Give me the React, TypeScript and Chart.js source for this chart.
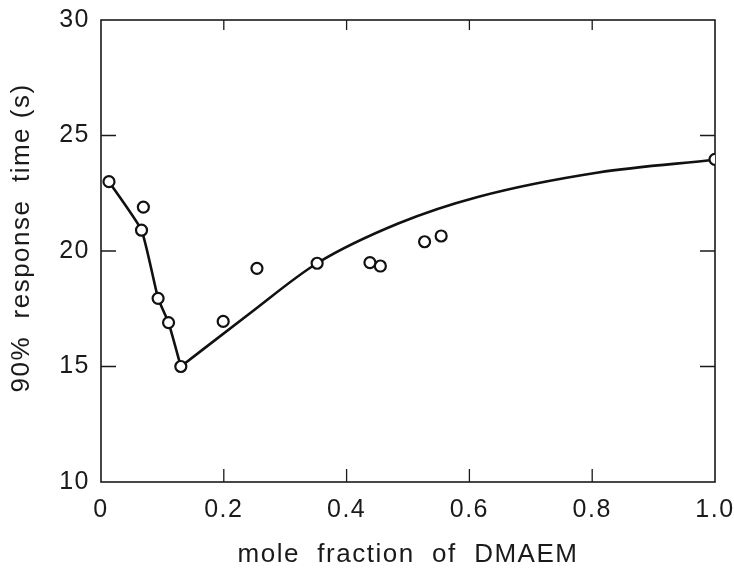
import React, { useEffect, useRef } from "react";
import { Chart, registerables } from "chart.js";

Chart.register(...registerables);

// Measured points: mole fraction of DMAEM vs 90% response time (s)
const moleFraction = [0.013, 0.069, 0.066, 0.093, 0.11, 0.13, 0.199, 0.254, 0.352, 0.438, 0.455, 0.527, 0.554, 1.0];
const responseTime = [23.0, 21.9, 20.9, 17.95, 16.9, 15.0, 16.95, 19.25, 19.47, 19.5, 19.35, 20.4, 20.65, 23.97];

// Hand-drawn trend line, left branch
const leftCurveX = [0.013, 0.066, 0.093, 0.11, 0.13];
const leftCurveY = [23.0, 20.9, 17.95, 16.9, 15.0];

// Hand-drawn trend line, right branch
const rightCurveX = [0.13, 0.24, 0.352, 0.485, 0.615, 0.81, 1.0];
const rightCurveY = [15.0, 17.25, 19.47, 21.2, 22.35, 23.4, 23.95];

const xTickLabels = ["0", "0.2", "0.4", "0.6", "0.8", "1.0"];
const yTickLabels = ["10", "15", "20", "25", "30"];

const toXY = (xs: number[], ys: number[]) => xs.map((x, i) => ({ x, y: ys[i] }));

const frameAndTicks = {
  id: "frameAndTicks",
  beforeDraw(chart: any) {
    (chart.ctx as any).letterSpacing = "1.5px";
  },
  beforeDatasetsDraw(chart: any) {
    const { ctx, chartArea } = chart;
    const { left, right, top, bottom } = chartArea;
    const xs = chart.scales.x;
    const ys = chart.scales.y;
    ctx.save();
    ctx.strokeStyle = "#1a1a1a";
    ctx.lineWidth = 1.6;
    ctx.strokeRect(left, top, right - left, bottom - top);
    ctx.lineWidth = 1.3;
    ctx.beginPath();
    xs.ticks.forEach((t: any) => {
      const px = xs.getPixelForValue(t.value);
      if (px <= left + 1 || px >= right - 1) return;
      ctx.moveTo(px, bottom);
      ctx.lineTo(px, bottom - 13);
      ctx.moveTo(px, top);
      ctx.lineTo(px, top + 10);
    });
    ys.ticks.forEach((t: any) => {
      const py = ys.getPixelForValue(t.value);
      if (py <= top + 1 || py >= bottom - 1) return;
      ctx.moveTo(left, py);
      ctx.lineTo(left + 15, py);
      ctx.moveTo(right, py);
      ctx.lineTo(right - 15, py);
    });
    ctx.stroke();
    ctx.restore();
  },
};

export default function App() {
  const canvasRef = useRef<HTMLCanvasElement | null>(null);

  useEffect(() => {
    document.body.style.margin = "0";
    const canvas = canvasRef.current;
    if (!canvas) return;
    const chart = new Chart(canvas, {
      type: "scatter",
      data: {
        datasets: [
          {
            label: "measured",
            data: toXY(moleFraction, responseTime),
            showLine: false,
            pointRadius: 5.5,
            pointBorderWidth: 2.2,
            pointBorderColor: "#111",
            pointBackgroundColor: "#fff",
          },
          {
            label: "left",
            data: toXY(leftCurveX, leftCurveY),
            showLine: true,
            borderColor: "#111",
            borderWidth: 2.6,
            pointRadius: 0,
            tension: 0.15,
          },
          {
            label: "right",
            data: toXY(rightCurveX, rightCurveY),
            showLine: true,
            borderColor: "#111",
            borderWidth: 2.6,
            pointRadius: 0,
            cubicInterpolationMode: "monotone",
          },
        ],
      },
      options: {
        animation: false,
        responsive: false,
        devicePixelRatio: 1,
        layout: { padding: { top: 20, right: 19, left: 0, bottom: 0 } },
        plugins: { legend: { display: false }, tooltip: { enabled: false } },
        scales: {
          x: {
            type: "linear",
            min: 0,
            max: 1,
            grid: { display: false, drawTicks: false },
            border: { display: false },
            ticks: {
              stepSize: 0.2,
              padding: 13,
              color: "#1a1a1a",
              maxRotation: 0,
              font: { family: "Liberation Sans", size: 25 },
              callback: (_v: any, i: number) => xTickLabels[i],
            },
            title: {
              display: true,
              text: "mole  fraction  of  DMAEM",
              color: "#1a1a1a",
              font: { family: "Liberation Sans", size: 26 },
              padding: { top: 0, bottom: 0 },
            },
            afterFit: (s: any) => {
              s.height = 88;
              s.paddingLeft = 0;
              s.paddingRight = 0;
            },
          },
          y: {
            min: 10,
            max: 30,
            grid: { display: false, drawTicks: false },
            border: { display: false },
            ticks: {
              stepSize: 5,
              padding: 11,
              color: "#1a1a1a",
              font: { family: "Liberation Sans", size: 25 },
              callback: (_v: any, i: number) => yTickLabels[i],
            },
            title: {
              display: true,
              text: "   90%  response  time (s)",
              color: "#1a1a1a",
              font: { family: "Liberation Sans", size: 26 },
              padding: { top: 6, bottom: 0 },
            },
            afterFit: (s: any) => {
              s.width = 101;
              s.paddingTop = 0;
              s.paddingBottom = 0;
            },
          },
        },
      },
      plugins: [frameAndTicks],
    });
    return () => chart.destroy();
  }, []);

  return (
    <div style={{ width: 734, height: 570, background: "#fff" }}>
      <canvas ref={canvasRef} width={734} height={570} style={{ display: "block" }} />
    </div>
  );
}
